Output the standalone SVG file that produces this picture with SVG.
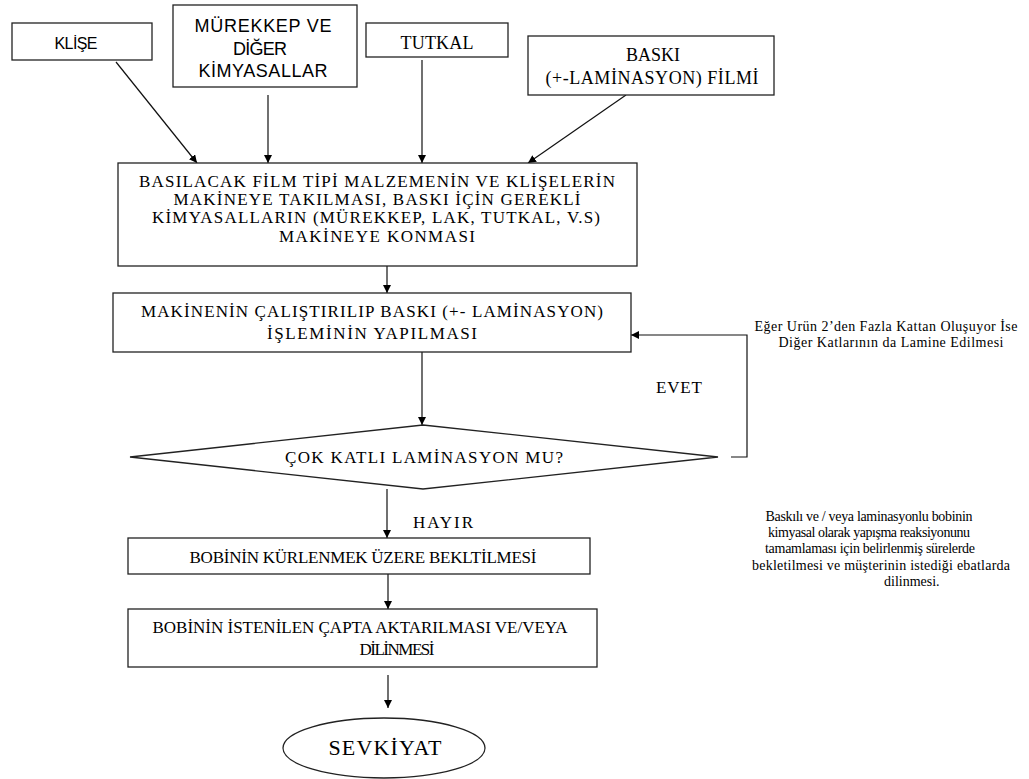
<svg xmlns="http://www.w3.org/2000/svg" width="1029" height="779" viewBox="0 0 1029 779">
<style>
.box{fill:#fff;stroke:#222;stroke-width:1.3}
.c{fill:none;stroke:#111;stroke-width:1.2}
.s{font-family:"Liberation Serif","Times New Roman",serif;fill:#000}
.ss{font-family:"Liberation Sans",Arial,sans-serif;fill:#000}
.m{text-anchor:middle}
.b{font-size:17px}
</style>
<defs>
<marker id="ah" viewBox="0 0 10 10" refX="10" refY="5" markerWidth="8" markerHeight="8" markerUnits="userSpaceOnUse" orient="auto">
<path d="M0,0 L10,5 L0,10 z" fill="#000"/>
</marker>
</defs>
<rect width="1029" height="779" fill="#fff"/>
<g id="connectors">
<line class="c" x1="116" y1="62" x2="197" y2="163" marker-end="url(#ah)"/>
<line class="c" x1="268" y1="95" x2="268" y2="163" marker-end="url(#ah)"/>
<line class="c" x1="422" y1="60" x2="422" y2="163" marker-end="url(#ah)"/>
<line class="c" x1="626" y1="95" x2="528" y2="163" marker-end="url(#ah)"/>
<line class="c" x1="387" y1="266" x2="387" y2="293" marker-end="url(#ah)"/>
<line class="c" x1="422" y1="352" x2="422" y2="425" marker-end="url(#ah)"/>
<polyline class="c" points="731,457 747,457 747,335 631,335" marker-end="url(#ah)"/>
<line class="c" x1="387" y1="489" x2="387" y2="538" marker-end="url(#ah)"/>
<line class="c" x1="388" y1="574" x2="388" y2="609" marker-end="url(#ah)"/>
<line class="c" x1="388" y1="675" x2="388" y2="708" marker-end="url(#ah)"/>
</g>
<g id="klise">
<rect class="box" x="12" y="23" width="140" height="37"/>
<text class="ss m" x="76" y="49" font-size="16" textLength="43">KLİŞE</text>
</g>
<g id="murekkep">
<rect class="box" x="173" y="5" width="184" height="82"/>
<text class="ss m" x="263" y="32" font-size="18" textLength="137">MÜREKKEP VE</text>
<text class="ss m" x="260" y="55" font-size="18" textLength="54">DİĞER</text>
<text class="ss m" x="263" y="77" font-size="18" textLength="129">KİMYASALLAR</text>
</g>
<g id="tutkal">
<rect class="box" x="366" y="23" width="142" height="34"/>
<text class="s m" x="437" y="49" font-size="18" textLength="73">TUTKAL</text>
</g>
<g id="baski">
<rect class="box" x="528" y="36" width="246" height="59"/>
<text class="s m" x="653" y="61" font-size="18" textLength="54">BASKI</text>
<text class="s m" x="652" y="84" font-size="18" textLength="213">(+-LAMİNASYON) FİLMİ</text>
</g>
<g id="hazirlik">
<rect class="box" x="118" y="163" width="519" height="103"/>
<text class="s m b" x="377" y="187" textLength="476">BASILACAK FİLM TİPİ MALZEMENİN VE KLİŞELERİN</text>
<text class="s m b" x="377" y="205" textLength="407">MAKİNEYE TAKILMASI, BASKI İÇİN GEREKLİ</text>
<text class="s m b" x="376" y="223" textLength="448">KİMYASALLARIN (MÜREKKEP, LAK, TUTKAL, V.S)</text>
<text class="s m b" x="377" y="242" textLength="196">MAKİNEYE KONMASI</text>
</g>
<g id="calistirma">
<rect class="box" x="113" y="293" width="518" height="59"/>
<text class="s m b" x="372" y="317" textLength="462">MAKİNENİN ÇALIŞTIRILIP BASKI (+- LAMİNASYON)</text>
<text class="s m b" x="372" y="339" textLength="210">İŞLEMİNİN YAPILMASI</text>
</g>
<g id="karar">
<polygon class="box" points="423,425 718,457 423,489 130,457"/>
<text class="s m b" x="424" y="463" textLength="278">ÇOK KATLI LAMİNASYON MU?</text>
</g>
<g id="kurlenme">
<rect class="box" x="128" y="538" width="462" height="36"/>
<text class="s m b" x="363" y="563" textLength="347">BOBİNİN KÜRLENMEK ÜZERE BEKLTİLMESİ</text>
</g>
<g id="aktarma">
<rect class="box" x="128" y="609" width="469" height="58"/>
<text class="s m b" x="360" y="633" textLength="415">BOBİNİN İSTENİLEN ÇAPTA AKTARILMASI VE/VEYA</text>
<text class="s m b" x="397" y="655" textLength="75">DİLİNMESİ</text>
</g>
<g id="sevkiyat">
<ellipse class="box" cx="384" cy="748" rx="101" ry="30"/>
<text class="s m" x="385" y="755" font-size="22" textLength="113">SEVKİYAT</text>
</g>
<g id="labels">
<text class="s m b" x="679" y="393" textLength="46">EVET</text>
<text class="s b" x="413" y="528" textLength="60">HAYIR</text>
<text class="s m" x="886" y="331" font-size="14" textLength="263">Eğer Urün 2’den Fazla Kattan Oluşuyor İse</text>
<text class="s m" x="891" y="347" font-size="14" textLength="225">Diğer Katlarının da Lamine Edilmesi</text>
<text class="s m" x="869" y="521" font-size="14" textLength="207">Baskılı ve  / veya laminasyonlu bobinin</text>
<text class="s m" x="869" y="537" font-size="14" textLength="202">kimyasal olarak yapışma reaksiyonunu</text>
<text class="s m" x="870" y="553" font-size="14" textLength="210">tamamlaması için belirlenmiş sürelerde</text>
<text class="s m" x="881" y="570" font-size="14" textLength="258">bekletilmesi ve müşterinin istediği ebatlarda</text>
<text class="s" x="884" y="586" font-size="14">dilinmesi.</text>
</g>
</svg>
